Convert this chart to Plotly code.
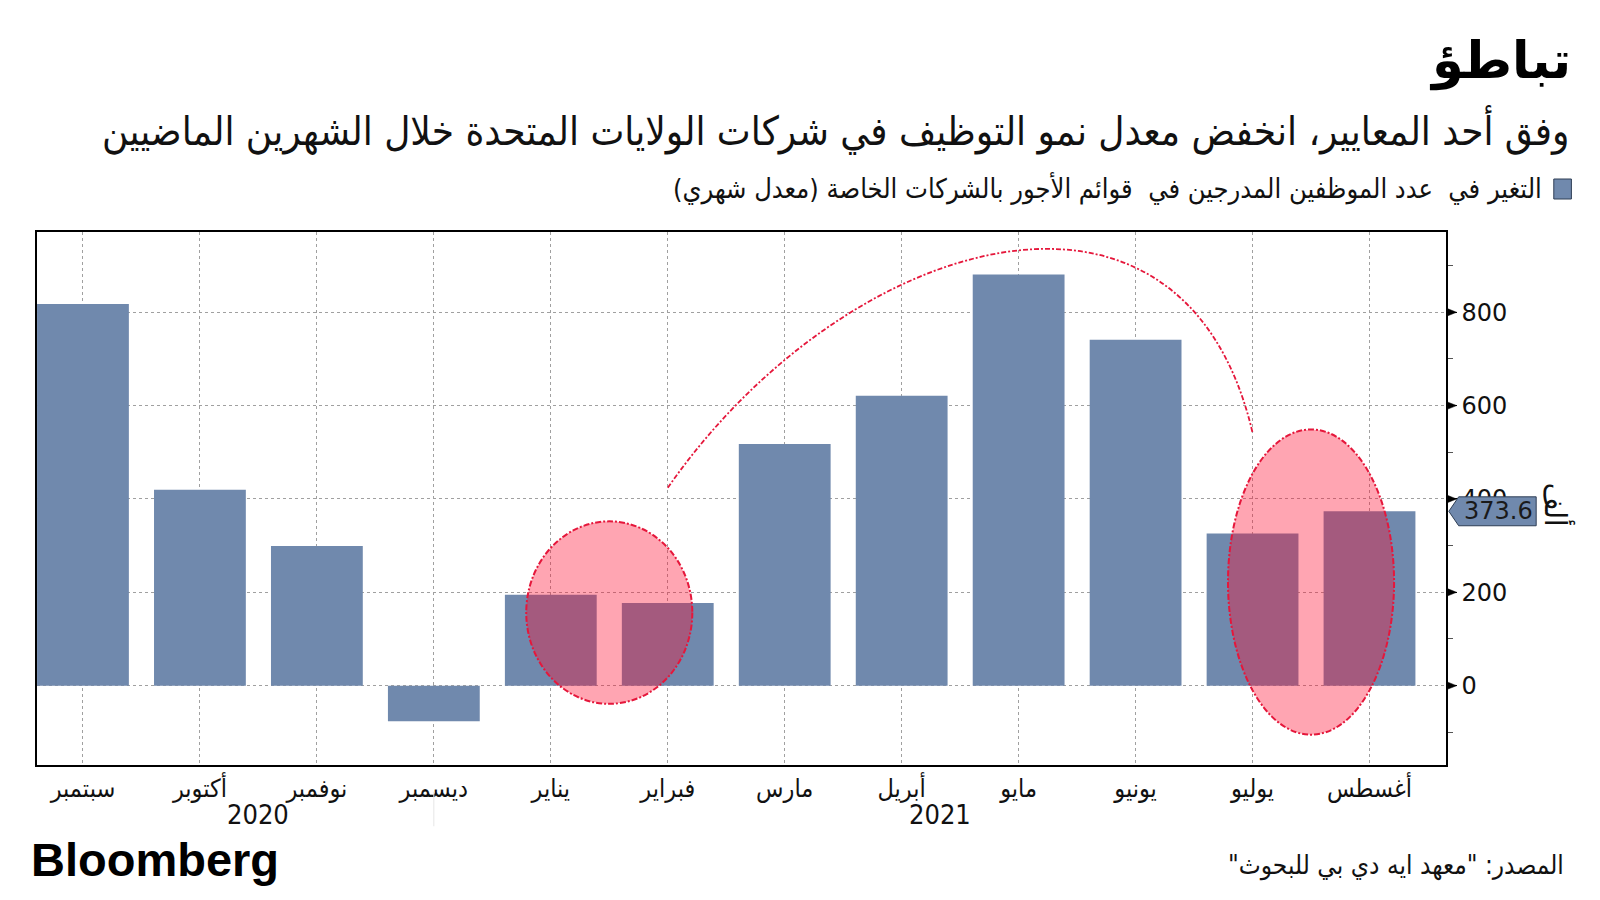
import plotly.graph_objects as go

months = ["سبتمبر", "أكتوبر", "نوفمبر", "ديسمبر", "يناير", "فبراير",
          "مارس", "أبريل", "مايو", "يونيو", "يوليو", "أغسطس"]
values = [818, 420, 299, -76, 195, 177, 518, 621, 881, 741, 326, 373.6]
year_labels = ["2020", "2021"]
year_pos = [1.5, 7.33]
y_ticks = [0, 200, 400, 600, 800]

BAR = "#7089AD"
AR = "DejaVu Sans Condensed, DejaVu Sans, sans-serif"
NUM = "DejaVu Sans, sans-serif"
RLM = "\u200f"

x = list(range(len(months)))

fig = go.Figure()
fig.add_trace(go.Bar(x=x, y=values, marker=dict(color=BAR, line=dict(width=0)),
                     width=0.785, showlegend=False, hoverinfo="y"))

shapes = []
# triangular major tick markers on the right axis
for v in y_ticks:
    shapes.append(dict(type="path", xref="paper", yref="y",
                       path=f"M 1.0005,{v+8.5} L 1.0075,{v} L 1.0005,{v-8.5} Z",
                       fillcolor="#000", line=dict(color="#000", width=0.5), layer="above"))
# ellipses
for (x0, x1, y0, y1) in [(3.79, 5.21, -39, 352), (9.79, 11.21, -105, 549)]:
    shapes.append(dict(type="circle", xref="x", yref="y", x0=x0, x1=x1, y0=y0, y1=y1,
                       fillcolor="rgba(255,11,46,0.37)",
                       line=dict(color="#E5173B", width=2, dash="6px,2px,2px,2px"), layer="above"))
# arc
shapes.append(dict(type="path", xref="x", yref="y",
                   path="M 5,424 C 6.5,965 9.4,1185 10,542",
                   line=dict(color="#E5173B", width=1.8, dash="5px,2px,2px,2px"), layer="above"))
# value tag
last = values[-1]
shapes.append(dict(type="path", xref="paper", yref="y",
                   path=f"M 1.002,{last} L 1.009,{last+31} L 1.064,{last+31} L 1.064,{last-31} L 1.009,{last-31} Z",
                   fillcolor=BAR, line=dict(color="#2E3E55", width=1), layer="above"))
# legend square
shapes.append(dict(type="rect", xref="paper", yref="paper", x0=1.0765, x1=1.089,
                   y0=(765-199)/533, y1=(765-179)/533, fillcolor=BAR,
                   line=dict(color="#2E3E55", width=1)))
# faint year separator
shapes.append(dict(type="line", xref="x", yref="paper", x0=3, x1=3, y0=-0.05, y1=-0.115,
                   line=dict(color="#E6E6E6", width=1)))

ann = []
ann.append(dict(text="<b>تباطؤ</b>", xref="paper", yref="paper", x=1.09, y=(765-61)/533,
                xanchor="right", yanchor="middle", showarrow=False,
                font=dict(family="DejaVu Sans, sans-serif", size=51, color="#000")))
ann.append(dict(text=RLM + "وفق أحد المعايير، انخفض معدل نمو التوظيف في شركات الولايات المتحدة خلال الشهرين الماضيين" + RLM,
                xref="paper", yref="paper", x=1.089, y=(765-130)/533,
                xanchor="right", yanchor="middle", showarrow=False,
                font=dict(family=AR, size=40, color="#111")))
ann.append(dict(text=RLM + "التغير في  عدد الموظفين المدرجين في  قوائم الأجور بالشركات الخاصة (معدل شهري)" + RLM,
                xref="paper", yref="paper", x=1.0696, y=(765-188)/533,
                xanchor="right", yanchor="middle", showarrow=False,
                font=dict(family=AR, size=27, color="#111")))
ann.append(dict(text=f"{last}", xref="paper", yref="y", x=1.037, y=last,
                xanchor="center", yanchor="middle", showarrow=False,
                font=dict(family=NUM, size=24, color="#1A1A1A")))
ann.append(dict(text="ألف", xref="paper", yref="y", x=1.079, y=387, textangle=90,
                xanchor="center", yanchor="middle", showarrow=False,
                font=dict(family=AR, size=30, color="#111")))
for t, p in zip(year_labels, year_pos):
    ann.append(dict(text=t, xref="x", yref="paper", x=p, y=(765-814)/533,
                    xanchor="center", yanchor="middle", showarrow=False,
                    font=dict(family=AR, size=27, color="#111")))
ann.append(dict(text="<b>Bloomberg</b>", xref="paper", yref="paper", x=-0.006, y=(765-859)/533,
                xanchor="left", yanchor="middle", showarrow=False,
                font=dict(family="Liberation Sans, Arial, sans-serif", size=47, color="#000")))
ann.append(dict(text=RLM + 'المصدر: "معهد ايه دي بي للبحوث"' + RLM, xref="paper", yref="paper",
                x=1.085, y=(765-865)/533, xanchor="right", yanchor="middle", showarrow=False,
                font=dict(family=AR, size=26, color="#111")))

fig.update_layout(
    width=1592, height=892,
    margin=dict(l=29, r=154, t=224, b=135, autoexpand=False),
    paper_bgcolor="white", plot_bgcolor="white",
    shapes=shapes, annotations=ann,
    xaxis=dict(range=[-0.393, 11.654], tickvals=x, ticktext=months,
               showgrid=True, gridcolor="#A0A0A0", griddash="dot", gridwidth=1,
               showline=True, linecolor="#000", linewidth=1.5, mirror=True,
               ticks="", zeroline=False,
               tickfont=dict(family=AR, size=25, color="#111")),
    yaxis=dict(range=[-170, 972], side="right", tickvals=y_ticks,
               showgrid=True, gridcolor="#A0A0A0", griddash="dot", gridwidth=1,
               showline=True, linecolor="#000", linewidth=1.5, mirror=True,
               ticks="outside", ticklen=9, tickwidth=1, tickcolor="#000",
               minor=dict(dtick=100, tick0=0, ticks="outside", ticklen=5, tickwidth=1,
                          tickcolor="#555", showgrid=False),
               zeroline=False,
               tickfont=dict(family=NUM, size=24, color="#111")),
)

fig.write_html("out.html")
